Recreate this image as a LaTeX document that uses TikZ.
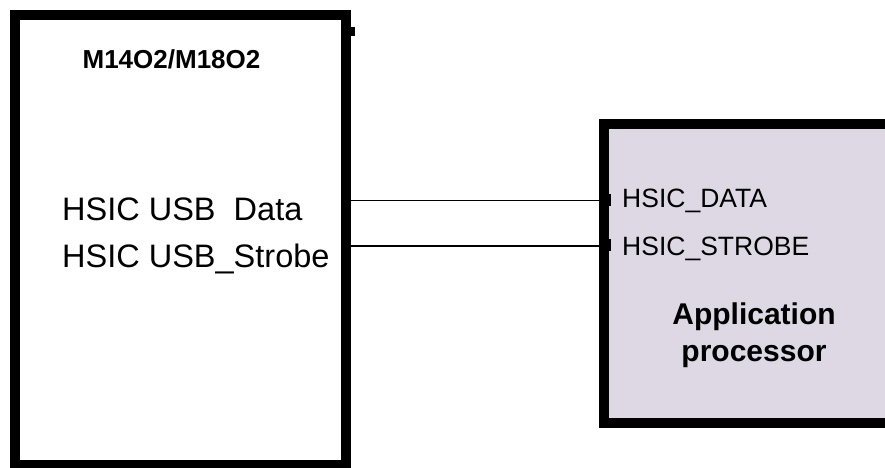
\documentclass[tikz,border=0pt]{standalone}
\usepackage{fontspec}
\setmainfont{Liberation Sans}
\usepackage{tikz}
\usetikzlibrary{positioning}
\definecolor{apfill}{RGB}{221,216,228}
\tikzstyle{module} = [rectangle, draw=black, line width=10pt, inner sep=0pt, fill=white]
\tikzstyle{chip} = [rectangle, draw=black, line width=10pt, inner sep=0pt, fill=apfill]
\tikzstyle{title} = [inner sep=0pt, font=\fontsize{26}{30}\selectfont\bfseries]
\tikzstyle{signal} = [inner sep=0pt, anchor=base west, font=\fontsize{32.5}{38}\selectfont]
\tikzstyle{pin} = [inner sep=0pt, anchor=base west, font=\fontsize{26.5}{30}\selectfont]
\tikzstyle{wire} = [line width=1.5pt]
\tikzstyle{stub} = [line width=4pt]

\begin{document}
\begin{tikzpicture}[x=1pt, y=1pt]
                \useasboundingbox (0,0) rectangle (885,467);
                \node (modem) [module, minimum width=331pt, minimum height=450pt] at (180.5,227) {};
                \node (ap) [chip, minimum width=291pt, minimum height=298.5pt] at (749.5,193.75) {};

                \node (name) [title, anchor=base] at (171.5,399) {M14O2/M18O2};
                \node (usbdata) [signal] at (62,247) {HSIC USB~~Data};
                \node (usbstrobe) [signal] at (62,200) {HSIC USB\_Strobe};
                \node (hsicdata) [pin] at (622,260) {HSIC\_DATA};
                \node (hsicstrobe) [pin] at (622,212) {HSIC\_STROBE};
                \node (apname) [inner sep=0pt, align=center, font=\fontsize{30}{37}\selectfont\bfseries] at (754,131.5) {Application\\processor};

                % connections between the two boxes
                \draw [wire] (modem.east |- 0,266.3) -- (ap.west |- 0,266.3);
                \draw [wire] (modem.east |- 0,221) -- (ap.west |- 0,221);
                \draw [stub] (ap.west |- 0,273) ++(10,0) -- ++(0,-12);
                \draw [stub] (ap.west |- 0,228) ++(10,0) -- ++(0,-12);
                \draw [stub] (modem.east |- 0,440) ++(2,0) -- ++(0,-9);
\end{tikzpicture}
\end{document}
